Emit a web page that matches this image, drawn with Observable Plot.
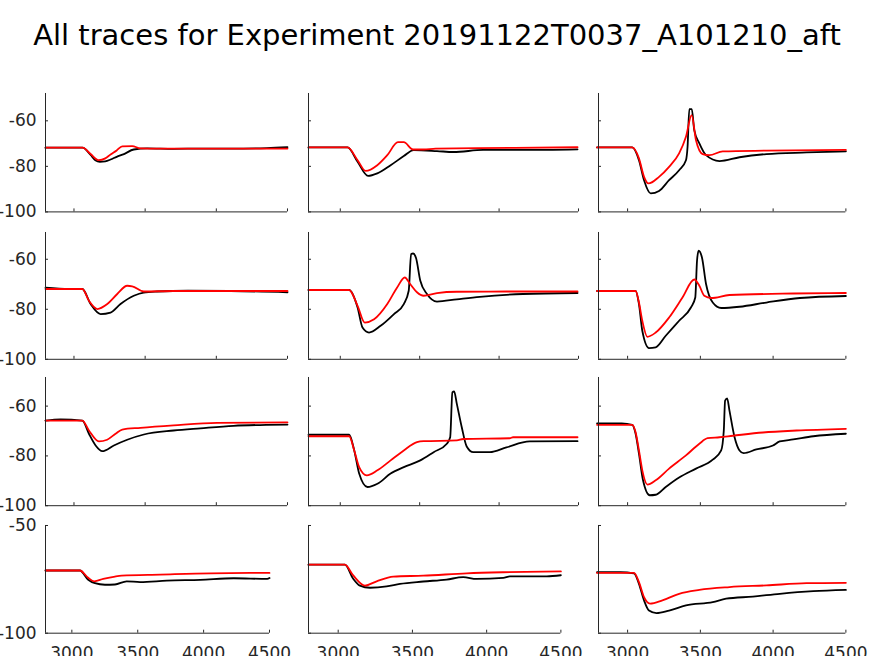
<!DOCTYPE html>
<html><head><meta charset="utf-8">
<script src="https://cdn.jsdelivr.net/npm/d3@7"></script>
<script src="https://cdn.jsdelivr.net/npm/@observablehq/plot@0.6"></script>
<style>
body{margin:0;background:#fff;}
#wrap{position:relative;width:874px;height:656px;overflow:hidden;background:#fff;font-family:"DejaVu Sans",sans-serif;}
#title{position:absolute;left:0;width:874px;top:20.5px;line-height:29px;text-align:center;font-size:29px;color:#000;white-space:nowrap;}
</style></head><body>
<div id="wrap"><div id="title">All traces for Experiment 20191122T0037_A101210_aft</div></div>
<script>
// ---- data: [time, value] pairs, black = recorded, red = model ----
const xTicks = [3000, 3500, 4000, 4500];
const yTicksRows = [[-100, -80, -60], [-100, -80, -60], [-100, -80, -60], [-100, -50]];

const black11 = [[2800,-71.8],[3060,-71.8],[3117,-75],[3150,-77.3],[3182,-78],[3220,-77.8],[3257,-77],[3300,-75.8],[3351,-74.6],[3420,-72.6],[3514,-72.1],[3700,-72.3],[3900,-72.2],[4100,-72.2],[4356,-72],[4500,-71.6]];
const red11 = [[2800,-71.8],[3060,-71.8],[3117,-74.6],[3175,-77.3],[3220,-76.5],[3257,-74.8],[3300,-73],[3339,-71.2],[3409,-71.1],[3467,-72.1],[3600,-72.2],[4500,-72.2]];

const black12 = [[2800,-71.7],[3046,-71.7],[3109,-78],[3175,-84.2],[3233,-83.1],[3317,-79.5],[3400,-75.5],[3462,-72.9],[3609,-73.3],[3713,-73.7],[3900,-72.8],[4150,-72.8],[4494,-72.5]];
const red12 = [[2800,-71.7],[3046,-71.7],[3109,-77.3],[3160,-82],[3233,-79.5],[3296,-75.1],[3363,-69.4],[3400,-69.4],[3458,-72.6],[3525,-72.6],[3600,-72.2],[4100,-71.9],[4494,-71.6]];

const black13 = [[2790,-71.7],[3032,-71.7],[3078,-77.3],[3113,-86.1],[3159,-91.9],[3216,-90.8],[3285,-86.1],[3354,-81.7],[3401,-77.3],[3412,-71.4],[3424,-54.9],[3441,-54.9],[3458,-64.1],[3493,-69.9],[3539,-75.1],[3631,-77.7],[3769,-76],[3954,-74.6],[4230,-73.9],[4500,-73.4]];
const red13 = [[2790,-71.7],[3032,-71.7],[3078,-76.5],[3113,-84.6],[3143,-87.5],[3216,-84.6],[3285,-80.2],[3354,-74.3],[3401,-67],[3440,-57.5],[3470,-68.5],[3516,-74.6],[3562,-75.1],[3654,-73.4],[3954,-73.1],[4500,-72.8]];

const black21 = [[2800,-71.4],[2965,-71.9],[3059,-71.9],[3117,-77.9],[3187,-81.9],[3257,-81.3],[3327,-77.9],[3420,-74.6],[3490,-73.3],[3584,-72.9],[3800,-72.6],[4100,-72.7],[4500,-73.2]];
const red21 = [[2800,-71.9],[3059,-71.9],[3105,-76.6],[3164,-79.9],[3234,-77.9],[3304,-73.9],[3374,-70.6],[3409,-70.8],[3490,-72.9],[3700,-72.7],[4500,-72.7]];

const black22 = [[2800,-72.3],[3056,-72.3],[3109,-79.3],[3140,-87.3],[3181,-89.3],[3254,-86.6],[3338,-81.9],[3400,-77.9],[3431,-72.6],[3446,-57.9],[3459,-57.7],[3477,-59.5],[3504,-68.6],[3546,-73.9],[3609,-76.9],[3734,-76],[3879,-75],[4150,-73.9],[4494,-73.5]];
const red22 = [[2800,-72.3],[3056,-72.3],[3109,-78.6],[3154,-85.3],[3213,-84],[3296,-77.9],[3358,-71.3],[3406,-67.3],[3440,-69.9],[3483,-73.2],[3525,-74.6],[3609,-73.5],[3734,-73],[4046,-72.9],[4494,-72.9]];

const black23 = [[2790,-72.7],[3055,-72.7],[3078,-77.9],[3101,-88.6],[3147,-95.5],[3193,-95.2],[3262,-90.6],[3354,-84.6],[3435,-79.3],[3465,-75.3],[3477,-60.6],[3488,-56.6],[3511,-59.3],[3539,-69.9],[3585,-77.3],[3643,-79.5],[3769,-79],[3954,-77.3],[4184,-75.5],[4500,-74.7]];
const red23 = [[2790,-72.7],[3055,-72.7],[3078,-77.3],[3101,-84.6],[3136,-91],[3193,-89.3],[3285,-83.3],[3377,-75.3],[3458,-68.1],[3493,-70.6],[3527,-74.6],[3574,-75.5],[3700,-74.3],[4138,-73.7],[4500,-73.5]];

const black31 = [[2800,-65.8],[2906,-65.3],[3059,-65.8],[3105,-71.1],[3152,-75.8],[3199,-78.1],[3280,-75.8],[3374,-73.5],[3491,-71.4],[3700,-69.8],[3888,-68.9],[4121,-67.9],[4355,-67.5],[4500,-67.4]];
const red31 = [[2800,-65.8],[3059,-65.8],[3105,-69.8],[3175,-74.2],[3233,-73.5],[3292,-71.1],[3339,-69.4],[3467,-68.7],[3700,-67.7],[4005,-66.7],[4500,-66.5]];

const black32 = [[2800,-71.5],[3056,-71.5],[3088,-77.8],[3119,-87.1],[3171,-92.5],[3234,-91.2],[3317,-87.1],[3400,-84.5],[3504,-81.8],[3588,-78.5],[3671,-75.1],[3692,-72.5],[3706,-54.5],[3717,-54.1],[3734,-59.1],[3765,-68.5],[3796,-76.2],[3838,-78.5],[3942,-78.5],[4046,-76.6],[4192,-74.2],[4494,-74.1]];
const red32 = [[2800,-72.1],[3056,-72.1],[3088,-77.8],[3119,-84.5],[3167,-87.8],[3234,-85.8],[3317,-81.8],[3400,-77.8],[3483,-74.5],[3525,-74.1],[3734,-73.8],[3775,-73.2],[4067,-72.9],[4088,-72.5],[4494,-72.5]];

const black33 = [[2790,-66.9],[2960,-66.9],[3032,-67.5],[3055,-71.1],[3078,-79.1],[3106,-89.8],[3152,-95.8],[3193,-95.6],[3262,-92.5],[3354,-88.7],[3470,-85.1],[3585,-81.5],[3643,-77.8],[3661,-69.8],[3670,-57.8],[3684,-56.9],[3700,-61.8],[3735,-72.5],[3769,-77.8],[3797,-78.9],[3885,-77.4],[3999,-75.8],[4045,-74.2],[4138,-73.4],[4276,-72.1],[4500,-71.1]];
const red33 = [[2790,-67.5],[3032,-67.5],[3055,-70.5],[3078,-77.8],[3101,-85.8],[3136,-91.5],[3193,-89.8],[3285,-85.1],[3401,-79.8],[3493,-75.1],[3550,-72.9],[3631,-72.5],[3723,-71.9],[3930,-70.6],[4161,-69.8],[4500,-69.1]];

const black41 = [[2800,-70.9],[3061,-70.9],[3124,-75.2],[3175,-76.8],[3251,-77.5],[3327,-77.4],[3416,-75.9],[3518,-76.3],[3721,-75.6],[3975,-75.2],[4229,-74.5],[4483,-74.8],[4500,-74.4]];
const red41 = [[2800,-70.9],[3061,-70.9],[3124,-74.3],[3170,-75.9],[3238,-74.8],[3327,-73.7],[3378,-73.3],[3670,-72.8],[4051,-72.2],[4500,-72]];

const black42 = [[2800,-68.2],[3045,-68.2],[3101,-74.7],[3146,-77.9],[3214,-78.9],[3326,-78.3],[3416,-77.1],[3573,-76],[3730,-75.1],[3842,-74],[3932,-74.8],[4112,-74.3],[4157,-73.6],[4405,-73.6],[4500,-73.1]];
const red42 = [[2800,-68.2],[3045,-68.2],[3101,-73.2],[3180,-77.9],[3259,-75.9],[3371,-73.7],[3573,-73.3],[3865,-72.2],[4112,-71.7],[4500,-71.3]];

const black43 = [[2790,-71.7],[2950,-71.7],[3044,-72.2],[3078,-77.1],[3113,-84.8],[3147,-89.5],[3198,-90.7],[3285,-89.5],[3401,-87.1],[3585,-85.6],[3677,-84],[3861,-83],[4046,-81.7],[4276,-80.5],[4500,-79.9]];
const red43 = [[2790,-72],[3044,-72],[3078,-76.3],[3113,-83.3],[3154,-86.3],[3239,-84.8],[3354,-81.7],[3493,-79.9],[3700,-78.6],[3954,-77.8],[4230,-76.8],[4500,-76.6]];

const panelTraces = [
  [[black11, red11], [black12, red12], [black13, red13]],
  [[black21, red21], [black22, red22], [black23, red23]],
  [[black31, red31], [black32, red32], [black33, red33]],
  [[black41, red41], [black42, red42], [black43, red43]]
];
const yDomains = [[-100, -48], [-100, -49.3], [-100, -48.5], [-100, -50]];

// ---- layout (pixel frames) ----
const rowEdges = [[93.3, 211.7], [231.7, 358.5], [377.3, 505.5], [525, 632.7]];
const colLeft = [45.3, 308.3, 598.3];
const colRight = [[287.3, 287.3, 287.3, 269.3], [578.3, 578.3, 578.3, 560.7], [845.7, 845.7, 845.7, 845.7]];

const wrap = document.getElementById("wrap");
const axisColor = "#262626";
const ml = 60, mr = 10, mt = 10, mb = 35;

for (let r = 0; r < 4; r++) {
  for (let c = 0; c < 3; c++) {
    const x0 = colLeft[c], x1 = colRight[c][r];
    const [y0, y1] = rowEdges[r];
    const [blk, red] = panelTraces[r][c];
    const plot = Plot.plot({
      width: (x1 - x0) + ml + mr,
      height: (y1 - y0) + mt + mb,
      marginLeft: ml, marginRight: mr, marginTop: mt, marginBottom: mb,
      x: {domain: [2800, 4500]},
      y: {domain: yDomains[r]},
      style: {fontFamily: "'DejaVu Sans'", fontSize: "17px", color: axisColor, background: "transparent", overflow: "visible"},
      marks: [
        Plot.line(blk, {x: d => d[0], y: d => d[1], stroke: "#000", strokeWidth: 1.8, curve: "monotone-x"}),
        Plot.line(red, {x: d => d[0], y: d => d[1], stroke: "#ff0000", strokeWidth: 1.8, curve: "monotone-x"}),
        Plot.ruleX([2800], {stroke: axisColor, strokeWidth: 1}),
        Plot.ruleY([yDomains[r][0]], {stroke: axisColor, strokeWidth: 1}),
        Plot.axisX(xTicks, {tickSize: -3, tickPadding: 17, label: null, stroke: axisColor, fill: axisColor,
          tickFormat: r === 3 ? (d => String(d)) : (() => "")}),
        Plot.axisY(yTicksRows[r], {tickSize: -3, tickPadding: 12, label: null, stroke: axisColor, fill: axisColor,
          tickFormat: c === 0 ? (d => String(d)) : (() => "")})
      ]
    });
    plot.style.position = "absolute";
    plot.style.left = (x0 - ml) + "px";
    plot.style.top = (y0 - mt) + "px";
    wrap.appendChild(plot);
  }
}
</script>
</body></html>
